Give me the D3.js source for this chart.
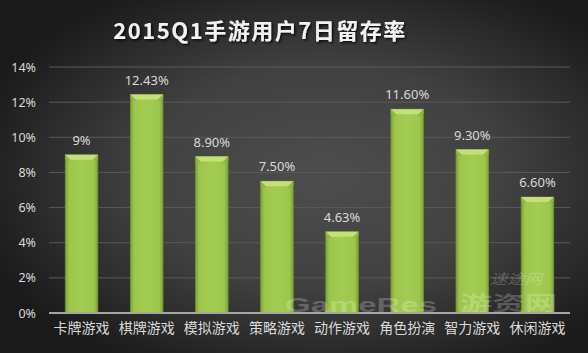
<!DOCTYPE html>
<html><head><meta charset="utf-8">
<script src="https://cdn.jsdelivr.net/npm/d3@7"></script>
<style>body{margin:0;background:#333}svg{display:block}</style>
</head><body>
<script>
const categories = ["卡牌游戏","棋牌游戏","模拟游戏","策略游戏","动作游戏","角色扮演","智力游戏","休闲游戏"];
const values = [9, 12.43, 8.90, 7.50, 4.63, 11.60, 9.30, 6.60];
const valueLabels = ["9%","12.43%","8.90%","7.50%","4.63%","11.60%","9.30%","6.60%"];
const yTicks = [0,2,4,6,8,10,12,14];
const title = "2015Q1手游用户7日留存率";

const W = 588, H = 353;
const m = {left:49, right:18, top:67, bottom:40};
const svg = d3.select("body").append("svg").attr("width",W).attr("height",H);
const defs = svg.append("defs");
const bg = defs.append("radialGradient").attr("id","bg").attr("cx","0.55").attr("cy","0.5").attr("r","0.62");
bg.append("stop").attr("offset","0").attr("stop-color","#4d4d4d");
bg.append("stop").attr("offset","0.5").attr("stop-color","#414141");
bg.append("stop").attr("offset","1").attr("stop-color","#1a1a1a");
const bar = defs.append("linearGradient").attr("id","bar").attr("x1",0).attr("x2",1).attr("y1",0).attr("y2",0);
bar.append("stop").attr("offset","0").attr("stop-color","#7ea536");
bar.append("stop").attr("offset","0.12").attr("stop-color","#9cc74c");
bar.append("stop").attr("offset","0.5").attr("stop-color","#a3cd52");
bar.append("stop").attr("offset","0.88").attr("stop-color","#9cc74c");
bar.append("stop").attr("offset","1").attr("stop-color","#7ea536");
const sh = defs.append("filter").attr("id","sh").attr("x","-10%").attr("y","-30%").attr("width","130%").attr("height","160%");
sh.append("feDropShadow").attr("dx",1.5).attr("dy",1.5).attr("stdDeviation",1.2).attr("flood-color","#000").attr("flood-opacity",0.8);

svg.append("rect").attr("width",W).attr("height",H).attr("fill","url(#bg)");

const x = d3.scaleBand().domain(categories).range([m.left, W-m.right]).paddingInner(0.5).paddingOuter(0.25);
const y = d3.scaleLinear().domain([0,14]).range([H-m.bottom, m.top]);

// gridlines
svg.append("g").selectAll("line").data(yTicks.filter(d=>d>0)).join("line")
  .attr("x1",m.left).attr("x2",W-m.right).attr("y1",d=>y(d)).attr("y2",d=>y(d))
  .attr("stroke","#5a5a5a").attr("stroke-width",1);

const numFont = "'Noto Sans', 'Open Sans', sans-serif";
// y axis labels
const yAxis = d3.axisLeft(y).tickValues(yTicks).tickFormat(d=>d+"%").tickSize(0).tickPadding(13);
const ga = svg.append("g").attr("transform",`translate(${m.left},0)`).call(yAxis);
ga.select(".domain").remove();
ga.selectAll("text").attr("fill","#d9d9d9").style("font-family",numFont).style("font-size","12.5px");

// bars
const gb = svg.append("g");
categories.forEach((c,i)=>{
  const x0 = x(c), bw = x.bandwidth(), y0 = y(values[i]), y1 = y(0);
  gb.append("rect").attr("x",x0).attr("y",y0).attr("width",bw).attr("height",y1-y0)
    .attr("fill","url(#bar)").attr("stroke","#6f9430").attr("stroke-width",0.8);
  const b = 5;
  gb.append("path").attr("d",`M${x0},${y0}L${x0+bw},${y0}L${x0+bw-b},${y0+b}L${x0+b},${y0+b}Z`)
    .attr("fill","#c4e07a");
  gb.append("path").attr("d",`M${x0},${y0}L${x0+b},${y0+b}L${x0+b},${y0+b+2}L${x0},${y0+4}Z`).attr("fill","#8fb842");
  gb.append("path").attr("d",`M${x0+bw},${y0}L${x0+bw-b},${y0+b}L${x0+bw-b},${y0+b+2}L${x0+bw},${y0+4}Z`).attr("fill","#8fb842");
  gb.append("text").attr("x",x0+bw/2).attr("y",y0-10).attr("text-anchor","middle")
    .attr("fill","#d9d9d9").style("font-family",numFont).style("font-size","13px")
    .text(valueLabels[i]);
});

// watermark (on top of bars, faint)
const wm = svg.append("g").attr("fill","#ffffff").attr("fill-opacity",0.22);
wm.append("text").attr("x",285).attr("y",312).attr("textLength",152).attr("lengthAdjust","spacingAndGlyphs")
  .style("font-family","'Liberation Sans', sans-serif").style("font-weight","bold").style("font-size","21px").text("GameRes");
wm.append("text").attr("x",460).attr("y",311).attr("textLength",97).attr("lengthAdjust","spacingAndGlyphs")
  .style("font-family","'Noto Sans CJK SC', sans-serif").style("font-weight","bold").style("font-size","20px").text("游资网");
wm.append("text").attr("x",490).attr("y",284).attr("textLength",52).attr("lengthAdjust","spacingAndGlyphs")
  .style("font-family","'Noto Sans CJK SC', sans-serif").style("font-style","italic").style("font-size","14px").text("速途网");

// baseline
svg.append("line").attr("x1",m.left).attr("x2",W-m.right).attr("y1",y(0)).attr("y2",y(0))
  .attr("stroke","#a6a6a6").attr("stroke-width",2);

// category labels
const xAxis = d3.axisBottom(x).tickSize(0).tickPadding(10);
const gx = svg.append("g").attr("transform",`translate(0,${y(0)})`).call(xAxis);
gx.select(".domain").remove();
gx.selectAll("text").attr("fill","#d9d9d9").style("font-family","'Noto Sans CJK SC', sans-serif").style("font-size","14px");

// title
svg.append("text").attr("x",260).attr("y",39).attr("text-anchor","middle").attr("fill","#f2f2f2")
  .attr("filter","url(#sh)").style("font-family","'Noto Sans CJK SC', sans-serif").style("font-weight","bold")
  .style("font-size","22px").style("letter-spacing","1.5px").text(title);
</script>
</body></html>
